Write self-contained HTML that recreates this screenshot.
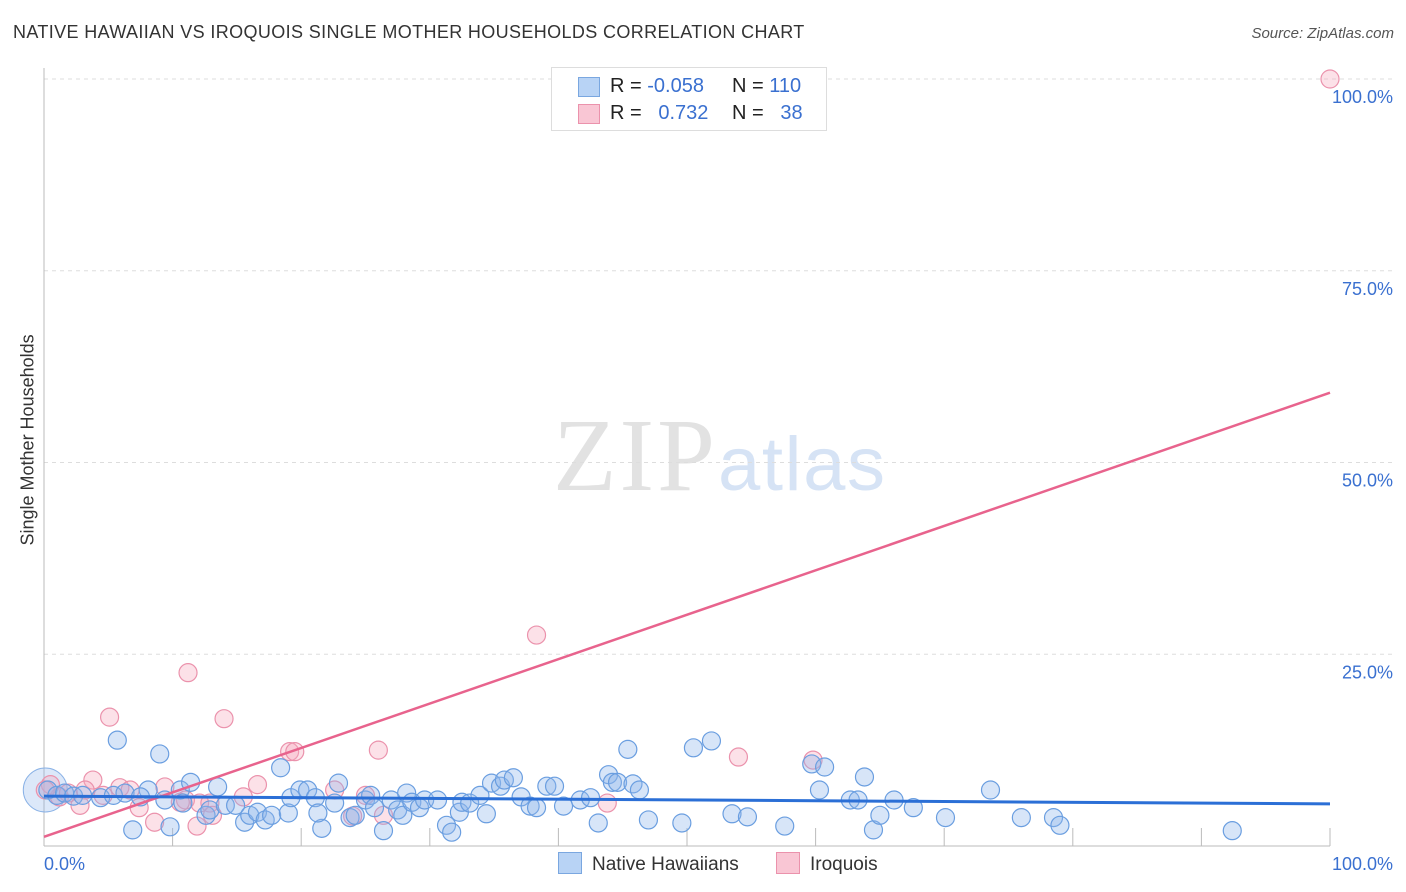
<!DOCTYPE html>
<html><head><meta charset="utf-8"><style>
body{margin:0;background:#fff;font-family:"Liberation Sans",sans-serif;}
#wrap{position:relative;width:1406px;height:892px;overflow:hidden;}
.t{position:absolute;white-space:nowrap;}
</style></head><body>
<div id="wrap">
<div class="t" style="left:13px;top:22px;font-size:18px;color:#333;letter-spacing:0.37px;">NATIVE HAWAIIAN VS IROQUOIS SINGLE MOTHER HOUSEHOLDS CORRELATION CHART</div>
<div class="t" style="right:12px;top:25px;font-size:15px;color:#555;font-style:italic;">Source: ZipAtlas.com</div>
<div class="t" style="left:-62px;top:445px;font-size:18px;color:#333;transform:rotate(-90deg);width:180px;text-align:center;">Single Mother Households</div>
<svg id="plot" width="1406" height="892" style="position:absolute;left:0;top:0"></svg>
<div class="t" style="left:551px;top:67px;width:274px;height:62px;border:1px solid #ddd;background:#fff;font-size:20px;color:#222;">
  <div style="position:absolute;left:26px;top:9px;width:20px;height:18px;background:#b8d3f5;border:1px solid #7aa7e0;"></div>
  <div style="position:absolute;left:58px;top:7px;">R = <span style="color:#3a70d0">-0.058</span></div>
  <div style="position:absolute;left:180px;top:7px;">N = <span style="color:#3a70d0">110</span></div>
  <div style="position:absolute;left:26px;top:36px;width:20px;height:18px;background:#f9c6d4;border:1px solid #eb92ac;"></div>
  <div style="position:absolute;left:58px;top:34px;">R = <span style="color:#3a70d0">&nbsp;&nbsp;0.732</span></div>
  <div style="position:absolute;left:180px;top:34px;">N = <span style="color:#3a70d0">&nbsp;&nbsp;38</span></div>
</div>
<div class="t" style="left:558px;top:852px;font-size:19px;color:#333;"><span style="display:inline-block;width:22px;height:20px;background:#b8d3f5;border:1px solid #7aa7e0;vertical-align:-4px;margin-right:10px;"></span>Native Hawaiians</div>
<div class="t" style="left:776px;top:852px;font-size:19px;color:#333;"><span style="display:inline-block;width:22px;height:20px;background:#f9c6d4;border:1px solid #eb92ac;vertical-align:-4px;margin-right:10px;"></span>Iroquois</div>
</div>
<script>
const yTicks=[25,50,75,100];
const yTickLabels=["25.0%","50.0%","75.0%","100.0%"];
const xTickLabels=["0.0%","100.0%"];
const blueX=[5.7,9.0,6.9,9.8,8.1,9.4,10.6,11.4,10.8,12.6,12.9,13.5,14.1,14.9,15.6,16.0,16.6,17.2,17.7,18.4,19.0,19.2,19.9,20.5,21.1,21.6,21.3,22.9,22.6,23.8,24.2,25.0,25.4,26.4,25.7,27.0,27.5,27.9,28.2,28.6,29.2,29.6,30.6,31.3,31.7,32.3,32.5,33.1,33.9,34.4,34.8,35.5,35.8,36.5,37.1,37.8,38.3,39.1,39.7,40.4,41.7,42.5,43.1,43.9,44.2,44.6,45.4,45.8,46.3,47.0,49.6,50.5,51.9,53.5,54.7,57.6,59.7,60.3,60.7,62.7,63.3,63.8,64.5,65.0,66.1,67.6,70.1,73.6,76.0,78.5,79.0,92.4,0.3,1.0,1.6,2.3,3.0,4.4,5.4,6.3,7.5];
const blueY=[13.8,12.0,2.1,2.5,7.3,6.0,7.3,8.3,5.6,4.0,4.7,7.7,5.3,5.3,3.1,4.0,4.4,3.4,4.0,10.2,4.3,6.3,7.3,7.3,6.3,2.3,4.3,8.2,5.6,3.7,4.0,6.0,6.6,2.0,5.0,6.0,4.7,4.0,6.9,5.7,5.0,6.0,6.0,2.7,1.8,4.4,5.7,5.6,6.6,4.2,8.2,7.8,8.6,8.9,6.4,5.2,5.0,7.8,7.8,5.2,6.0,6.3,3.0,9.3,8.3,8.3,12.6,8.1,7.3,3.4,3.0,12.8,13.7,4.2,3.8,2.6,10.7,7.3,10.3,6.0,6.0,9.0,2.1,4.0,6.0,5.0,3.7,7.3,3.7,3.7,2.7,2.0,7.3,6.6,6.9,6.5,6.6,6.3,6.6,6.9,6.4];
const pinkX=[100,38.3,11.2,5.1,14.0,19.1,19.5,26.0,54.0,59.8,16.6,3.8,5.9,9.4,11.0,12.1,12.9,13.1,8.6,11.9,15.5,7.4,10.6,22.6,24.0,25.0,26.4,43.8,0.5,1.2,1.9,2.8,3.2,4.6,6.7,0.1];
const pinkY=[100,27.5,22.6,16.8,16.6,12.3,12.3,12.5,11.6,11.2,8.0,8.6,7.6,7.7,6.0,5.6,5.6,4.0,3.1,2.6,6.4,5.0,5.7,7.3,3.9,6.6,4.0,5.6,8.0,6.4,6.9,5.3,7.3,6.6,7.3,7.3];
const blueTrend=[6.5,5.5];
const pinkTrend=[1.2,59.1];
const X0=44,X1=1330,Y0=846,Y1=79;
const sx=v=>X0+(X1-X0)*v/100, sy=v=>Y0-(Y0-Y1)*v/100;
const svg=document.getElementById('plot');const NS='http://www.w3.org/2000/svg';
function mk(t,a){const e=document.createElementNS(NS,t);for(const k in a)e.setAttribute(k,a[k]);svg.appendChild(e);return e;}
let wm=mk('text',{x:553,y:490,'font-size':104,fill:'#e2e2e2','font-family':'Liberation Serif, serif',textLength:162});wm.textContent='ZIP';


let wm2=mk('text',{x:718,y:490,'font-size':76,fill:'#d6e3f5','font-family':'Liberation Sans, sans-serif',textLength:167});wm2.textContent='atlas';


yTicks.forEach((v,i)=>{const g=mk('line',{x1:X0,x2:1395,y1:sy(v),y2:sy(v),stroke:'#ddd','stroke-dasharray':'4,4'});


const t=mk('text',{x:1393,y:sy(v)+24,'text-anchor':'end','font-size':18,fill:'#3a70d0','font-family':'Liberation Sans, sans-serif'});t.textContent=yTickLabels[i];

});
let ax=mk('line',{x1:X0,x2:X0,y1:68,y2:Y0,stroke:'#bbb'});


let axb=mk('line',{x1:X0,x2:X1,y1:Y0,y2:Y0,stroke:'#bbb'});


for(let i=1;i<=10;i++){const tk=mk('line',{x1:sx(i*10),x2:sx(i*10),y1:Y0-18,y2:Y0,stroke:'#bbb'});

}
[[0,'start',44],[100,'end',1393]].forEach((d,i)=>{const t=mk('text',{x:d[2],y:870,'text-anchor':d[1],'font-size':18,fill:'#3a70d0','font-family':'Liberation Sans, sans-serif'});t.textContent=xTickLabels[i];

});
let bigB=mk('circle',{cx:sx(0.1),cy:sy(7.3),r:22,fill:'rgba(140,180,235,0.3)',stroke:'#8ab2e6'});


pinkX.forEach((x,i)=>{const c=mk('circle',{cx:sx(x),cy:sy(pinkY[i]),r:9,fill:'rgba(245,170,190,0.35)',stroke:'#eb92ac','stroke-width':1.2});

});
blueX.forEach((x,i)=>{const c=mk('circle',{cx:sx(x),cy:sy(blueY[i]),r:9,fill:'rgba(140,180,235,0.35)',stroke:'#6a9ee0','stroke-width':1.2});

});
let pl=mk('line',{x1:sx(0),y1:sy(pinkTrend[0]),x2:sx(100),y2:sy(pinkTrend[1]),stroke:'#e8638d','stroke-width':2.5});


let bl=mk('line',{x1:sx(0),y1:sy(blueTrend[0]),x2:sx(100),y2:sy(blueTrend[1]),stroke:'#2b6fd6','stroke-width':3});


</script>
</body></html>
